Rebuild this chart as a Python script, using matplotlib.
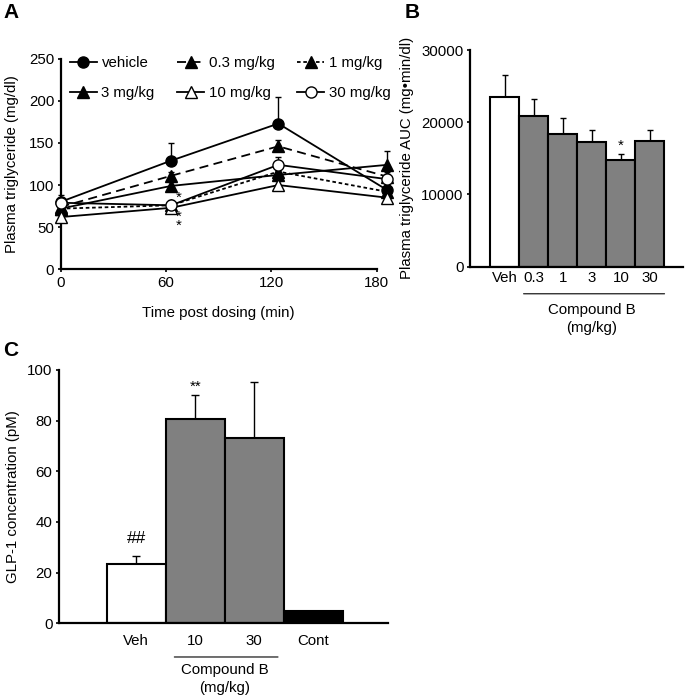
import matplotlib
matplotlib.use("Agg")
import matplotlib.pyplot as plt
import numpy as np

plt.rcParams['font.family'] = ['Liberation Sans', 'DejaVu Sans']
FS = 10.8

# ---------------- Panel A data ----------------
times = [0, 63, 124, 186]
series_labels = ["vehicle", "0.3 mg/kg", "1 mg/kg", "3 mg/kg", "10 mg/kg", "30 mg/kg"]
tg_vehicle = [80, 129, 173, 94]
tg_03 = [74, 111, 146, 110]
tg_1 = [72, 76, 116, 92]
tg_3 = [72, 99, 112, 124]
tg_10 = [62, 73, 100, 85]
tg_30 = [79, 76, 124, 107]
err_vehicle = [8, 21, 31, 6]
err_03 = [5, 5, 7, 5]
err_1 = [4, 5, 5, 4]
err_3 = [5, 5, 6, 16]
err_10 = [4, 5, 5, 4]
err_30 = [6, 6, 9, 6]
a_xticks = [0, 60, 120, 180]
a_yticks = [0, 50, 100, 150, 200, 250]

# ---------------- Panel B data ----------------
b_labels = ["Veh", "0.3", "1", "3", "10", "30"]
b_values = [23450, 20820, 18370, 17300, 14770, 17400]
b_err = [3050, 2350, 2220, 1620, 830, 1520]
b_yticks = [0, 10000, 20000, 30000]

# ---------------- Panel C data ----------------
c_labels = ["Veh", "10", "30", "Cont"]
c_values = [23.4, 80.6, 73.3, 4.8]
c_err = [3.3, 9.4, 21.8, 0]
c_yticks = [0, 20, 40, 60, 80, 100]

fig = plt.figure(figsize=(6.86, 6.98), dpi=100)
W, H = 686, 698

def axes_px(left, top, right, bottom):
    return fig.add_axes([left / W, 1 - bottom / H, (right - left) / W, (bottom - top) / H])

def style(ax):
    for s in ['top', 'right']:
        ax.spines[s].set_visible(False)
    for s in ['left', 'bottom']:
        ax.spines[s].set_linewidth(1.6)
        ax.spines[s].set_color('black')
    ax.tick_params(labelsize=FS, colors='black', length=2.5, width=1.2, direction='out', pad=2)

# ---------------- Panel A ----------------
axA = axes_px(60.5, 58.7, 376.7, 269.3)
style(axA)
specs = [
    (tg_vehicle, err_vehicle, 'o', 'black', '-', series_labels[0]),
    (tg_03, err_03, '^', 'black', (0, (5, 3)), series_labels[1]),
    (tg_1, err_1, '^', 'black', (0, (2, 1.5)), series_labels[2]),
    (tg_3, err_3, '^', 'black', '-', series_labels[3]),
    (tg_10, err_10, '^', 'white', '-', series_labels[4]),
    (tg_30, err_30, 'o', 'white', '-', series_labels[5]),
]
handles = {}
for vals, errs, mk, fc, ls, lab in specs:
    axA.errorbar(times, vals, yerr=[np.zeros(len(errs)), errs], fmt='none',
                 ecolor='black', elinewidth=1.0, capsize=2.0, capthick=1.0, clip_on=False, zorder=2)
    ln, = axA.plot(times, vals, linestyle=ls, color='black', linewidth=1.3,
                   marker=mk, markersize=8, markerfacecolor=fc, markeredgecolor='black',
                   markeredgewidth=1.0, clip_on=False, zorder=3, label=lab)
    handles[lab] = ln
axA.set_xlim(0, 180)
axA.set_ylim(0, 250)
axA.set_xticks(a_xticks)
axA.set_yticks(a_yticks)
axA.set_xlabel("Time post dosing (min)", fontsize=FS, labelpad=12)
axA.set_ylabel("Plasma triglyceride (mg/dl)", fontsize=FS, labelpad=7)
axA.text(67, 85, "*", ha='center', va='center', fontsize=FS)
axA.text(67, 57, "*\n*", ha='center', va='center', fontsize=FS, linespacing=0.5)
order = [series_labels[i] for i in [0, 3, 1, 4, 2, 5]]
axA.legend([handles[k] for k in order], order, ncol=3, frameon=False, fontsize=FS,
           loc='upper left', bbox_to_anchor=(0.03, 1.012), handlelength=1.8,
           handletextpad=0.3, columnspacing=1.5, labelspacing=1.05, borderaxespad=0,
           borderpad=0)
fig.text(3 / W, 1 - 13 / H, "A", fontsize=15, fontweight='bold', ha='left', va='center')

# ---------------- Panel B ----------------
axB = axes_px(470, 50, 683, 266.7)
style(axB)
xb = np.arange(len(b_labels))
colsB = ['white'] + ['#808080'] * (len(b_labels) - 1)
axB.bar(xb, b_values, width=1.0, color=colsB, edgecolor='black', linewidth=1.5, zorder=2)
axB.errorbar(xb, b_values, yerr=[np.zeros(len(b_err)), b_err], fmt='none', ecolor='black',
             elinewidth=1.0, capsize=2.5, capthick=1.0, zorder=1)
axB.set_xlim(-1.2, 6.14)
axB.set_ylim(0, 30000)
axB.set_yticks(b_yticks)
axB.set_xticks(xb)
axB.set_xticklabels(b_labels)
axB.tick_params(axis='x', length=0, pad=3)
axB.set_ylabel("Plasma triglyceride AUC (mg\u2022min/dl)", fontsize=FS, labelpad=5)
axB.text(4, b_values[4] + b_err[4] + 200, "*", ha='center', va='bottom', fontsize=FS)
axB.annotate("", xy=(0.55, -0.125), xytext=(5.6, -0.125), xycoords=('data', 'axes fraction'),
             arrowprops=dict(arrowstyle='-', color='black', lw=0.8), annotation_clip=False)
axB.text(3.0, -0.2, "Compound B", transform=axB.get_xaxis_transform(), ha='center', va='center', fontsize=FS)
axB.text(3.0, -0.285, "(mg/kg)", transform=axB.get_xaxis_transform(), ha='center', va='center', fontsize=FS)
fig.text(405 / W, 1 - 12 / H, "B", fontsize=15, fontweight='bold', ha='left', va='center')

# ---------------- Panel C ----------------
axC = axes_px(58.7, 370, 387.7, 623.3)
style(axC)
xc = np.arange(len(c_labels))
colsC = ['white', '#808080', '#808080', 'black']
axC.bar(xc, c_values, width=1.0, color=colsC, edgecolor='black', linewidth=1.5, zorder=2)
axC.errorbar(xc[:3], c_values[:3], yerr=[np.zeros(3), c_err[:3]], fmt='none', ecolor='black',
             elinewidth=1.0, capsize=2.8, capthick=1.0, zorder=1)
axC.set_xlim(-1.31, 4.26)
axC.set_ylim(0, 100)
axC.set_yticks(c_yticks)
axC.set_xticks(xc)
axC.set_xticklabels(c_labels)
axC.tick_params(axis='x', length=0, pad=8)
axC.set_ylabel("GLP-1 concentration (pM)", fontsize=FS, labelpad=5)
axC.text(0, 33.5, "##", ha='center', va='center', fontsize=12.5)
axC.text(1, 93.5, "**", ha='center', va='center', fontsize=FS)
axC.annotate("", xy=(0.6, -0.133), xytext=(2.45, -0.133), xycoords=('data', 'axes fraction'),
             arrowprops=dict(arrowstyle='-', color='black', lw=0.8), annotation_clip=False)
axC.text(1.5, -0.185, "Compound B", transform=axC.get_xaxis_transform(), ha='center', va='center', fontsize=FS)
axC.text(1.5, -0.255, "(mg/kg)", transform=axC.get_xaxis_transform(), ha='center', va='center', fontsize=FS)
fig.text(3 / W, 1 - 351 / H, "C", fontsize=15, fontweight='bold', ha='left', va='center')

fig.savefig("out.png", dpi=100)
